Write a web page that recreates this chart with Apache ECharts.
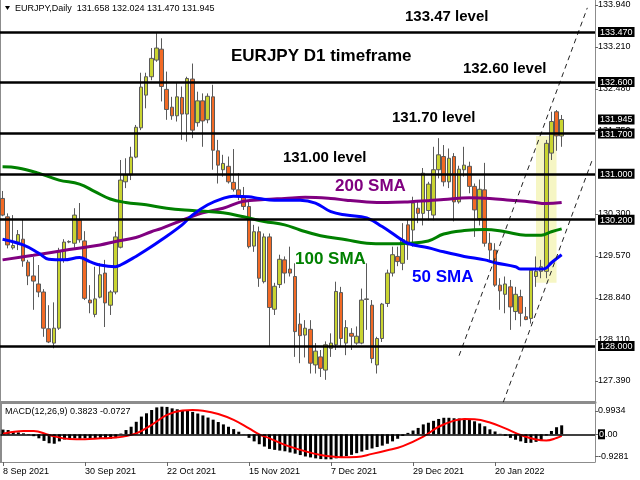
<!DOCTYPE html>
<html><head><meta charset="utf-8">
<script src="https://cdn.jsdelivr.net/npm/echarts@6/dist/echarts.min.js"></script>
<style>html,body{margin:0;padding:0;background:#fff}#c{width:640px;height:480px}</style>
</head><body><div id="c"></div>
<script>
// ---- categories (trading days) ----
const sepDays=[8,9,10,13,14,15,16,17,20,21,22,23,24,27,28,29,30];
const octDays=[1,4,5,6,7,8,11,12,13,14,15,18,19,20,21,22,25,26,27,28,29];
const novDays=[1,2,3,4,5,8,9,10,11,12,15,16,17,18,19,22,23,24,25,26,29,30];
const decDays=[1,2,3,6,7,8,9,10,13,14,15,16,17,20,21,22,23,24,27,28,29,30,31];
const janDays=[3,4,5,6,7,10,11,12,13,14,17,18,19,20,21,24,25,26,27,28,31];
const febDays=[1,2,3,4,7,8,9,10,11,14,15,16];
const categories=[].concat(
  sepDays.map(d=>d+' Sep 2021'),octDays.map(d=>d+' Oct 2021'),novDays.map(d=>d+' Nov 2021'),
  decDays.map(d=>d+' Dec 2021'),janDays.map(d=>d+' Jan 2022'),febDays.map(d=>d+' Feb 2022'));

// ---- OHLC ----
const opens=[130.57,130.25,129.71,129.81,129.86,129.46,129.22,129.08,128.94,128.30,
128.05,128.31,129.50,129.81,129.79,130.19,129.83,128.80,128.55,128.85,
129.27,128.71,128.94,129.72,130.86,130.98,131.29,131.80,132.37,132.69,
132.98,133.17,132.47,132.16,132.01,132.33,132.04,132.65,131.89,132.27,
131.94,132.34,131.40,131.07,131.13,130.85,130.72,130.60,130.43,129.74,
129.99,129.12,129.90,128.64,129.07,129.50,129.34,129.21,128.38,128.19,
128.29,127.67,127.81,127.58,127.96,128.02,128.93,128.05,128.22,128.05,
128.05,128.81,128.71,127.67,128.13,128.74,129.27,129.56,129.44,130.11,
130.02,130.40,130.31,130.36,130.28,131.07,131.30,130.86,131.30,130.51,
131.07,131.13,130.78,130.22,130.72,129.79,129.67,129.06,128.90,129.03,
128.60,128.86,128.51,128.48,129.21,129.30,129.30,131.36,132.08,131.658];
const highs=[130.70,130.31,130.28,130.02,130.20,129.50,129.55,129.41,128.99,128.71,
128.76,129.71,129.86,129.84,130.40,130.49,130.00,129.06,129.38,129.44,
129.50,128.97,129.99,131.24,131.27,131.47,131.85,132.76,132.76,133.19,
133.45,133.36,132.78,132.34,132.58,132.52,132.69,132.92,132.43,132.40,
132.40,132.55,131.59,131.33,131.30,131.43,131.01,130.77,130.54,130.11,
130.08,129.96,129.96,129.10,129.59,129.56,129.73,129.44,128.57,128.45,
128.45,128.05,127.93,128.08,128.22,129.12,129.03,128.45,128.31,128.34,
129.00,129.44,128.80,128.16,128.75,129.33,129.73,129.73,130.14,130.20,
130.60,130.54,131.10,130.86,131.47,131.62,131.50,131.44,131.36,131.14,
131.47,131.21,130.83,130.90,131.19,129.97,129.79,129.18,129.21,129.15,
129.03,128.98,128.68,129.35,129.56,129.50,131.59,132.08,132.11,132.024];
const lows=[130.26,129.70,129.68,129.67,129.38,129.06,128.63,128.85,128.16,128.05,
127.96,128.28,129.45,129.79,129.71,129.80,128.80,128.57,128.50,128.83,
128.33,128.54,128.90,129.70,130.75,130.89,131.27,131.76,132.14,132.63,
132.95,132.26,131.94,131.94,131.91,131.59,131.56,131.62,131.82,131.47,
131.88,131.07,130.83,130.95,130.83,130.69,130.54,130.37,129.70,129.64,
129.03,129.09,127.99,128.54,129.01,129.09,129.21,127.81,127.70,127.80,
127.52,127.52,127.46,127.41,127.81,127.93,127.99,127.84,127.93,128.02,
128.03,128.28,127.70,127.52,128.07,128.68,129.21,129.39,129.32,129.50,
129.73,130.14,130.10,130.19,130.19,130.92,130.78,130.75,130.17,130.48,
130.95,130.66,129.90,130.10,129.73,129.50,129.03,128.63,128.57,128.28,
128.45,128.34,128.45,128.39,129.03,129.18,129.18,131.24,131.40,131.470];
const closes=[130.28,129.76,129.75,129.94,129.48,129.22,129.13,128.94,128.31,128.07,
128.31,129.64,129.81,129.82,130.28,129.85,128.83,128.75,128.82,129.24,
128.75,128.94,129.90,130.89,130.98,131.29,131.81,132.51,132.69,133.01,
133.19,132.52,132.12,132.01,132.34,132.04,132.66,131.76,132.27,131.92,
132.35,131.41,131.15,131.18,130.86,130.73,130.60,130.43,129.73,129.99,
129.18,129.90,128.67,129.04,129.51,129.27,129.27,128.25,128.18,128.31,
127.70,127.91,127.61,128.02,128.05,128.95,128.13,128.32,128.17,128.17,
128.80,128.82,127.78,128.13,128.73,129.27,129.59,129.47,129.85,129.76,
130.49,130.31,131.01,130.82,131.07,131.33,130.86,131.27,130.51,131.08,
131.15,130.78,130.37,130.73,129.79,129.67,129.06,128.96,129.08,128.68,
128.90,128.57,128.46,129.32,129.30,129.38,131.53,131.91,131.66,131.945];

// ---- moving averages: [barIndex, price] ----
const sma50=[[0,129.86],[4,129.76],[7,129.62],[9,129.51],[12,129.50],[15,129.54],[17,129.47],[19,129.41],[22,129.38],[23,129.41],[26,129.56],[28,129.67],[31,129.85],[35,130.11],[37,130.28],[40,130.46],[43,130.57],[45,130.61],[48,130.60],[50,130.57],[53,130.54],[55,130.54],[58,130.54],[61,130.49],[64,130.34],[67,130.28],[71,130.23],[74,130.08],[77,129.90],[79,129.79],[83,129.71],[86,129.64],[90,129.56],[94,129.50],[96,129.45],[100,129.38],[101,129.34],[105,129.34],[106,129.36],[107,129.45],[109,129.59]];
const sma100=[[0,131.12],[3,131.10],[7,131.01],[11,130.89],[15,130.82],[18,130.69],[21,130.56],[24,130.50],[28,130.46],[32,130.40],[37,130.36],[43,130.32],[47,130.25],[51,130.17],[55,130.11],[58,130.02],[62,129.92],[67,129.85],[71,129.79],[75,129.78],[79,129.79],[83,129.83],[86,129.95],[90,130.01],[94,130.03],[98,129.99],[102,129.93],[105,129.93],[107,129.99],[109,130.04]];
const sma200=[[0,129.50],[6,129.58],[13,129.68],[19,129.76],[22,129.82],[26,129.89],[29,129.99],[31,130.05],[35,130.19],[39,130.32],[43,130.40],[47,130.52],[51,130.55],[55,130.57],[59,130.59],[64,130.57],[67,130.54],[71,130.51],[75,130.50],[79,130.51],[83,130.53],[86,130.55],[91,130.58],[95,130.57],[99,130.54],[103,130.51],[106,130.48],[109,130.50]];

// ---- MACD ----
const macdHist=[0.20,0.18,0.13,0.08,0.04,-0.02,-0.08,-0.17,-0.28,-0.38,
-0.40,-0.30,-0.22,-0.18,-0.17,-0.19,-0.17,-0.16,-0.17,-0.19,
-0.20,-0.19,-0.16,0.03,0.18,0.32,0.53,0.75,0.89,1.03,
1.14,1.17,1.16,1.10,1.06,1.03,0.99,0.95,0.88,0.80,
0.71,0.62,0.52,0.42,0.32,0.22,0.11,-0.01,-0.15,-0.30,
-0.42,-0.52,-0.62,-0.66,-0.69,-0.72,-0.77,-0.82,-0.88,-0.94,
-0.98,-1.02,-1.05,-1.06,-1.06,-1.02,-0.97,-0.92,-0.87,-0.80,
-0.73,-0.66,-0.60,-0.54,-0.48,-0.40,-0.30,-0.19,-0.07,0.06,
0.16,0.27,0.42,0.49,0.57,0.65,0.70,0.70,0.68,0.67,
0.65,0.62,0.55,0.46,0.34,0.21,0.12,0.02,-0.06,-0.15,
-0.23,-0.30,-0.37,-0.36,-0.32,-0.25,-0.05,0.14,0.30,0.38];
const macdSignal=[[0,0.02],[4,0.14],[6,0.14],[9,-0.03],[13,-0.20],[16,-0.21],[19,-0.17],[22,-0.14],[26,0.04],[29,0.40],[32,0.82],[35,1.01],[37,1.03],[39,1.00],[42,0.86],[45,0.61],[48,0.25],[50,0.0],[52,-0.17],[55,-0.45],[58,-0.66],[62,-0.88],[66,-0.97],[69,-0.96],[72,-0.83],[75,-0.68],[78,-0.50],[82,-0.10],[85,0.32],[88,0.58],[90,0.65],[92,0.64],[95,0.50],[98,0.25],[101,-0.03],[104,-0.22],[106,-0.26],[108,-0.16],[109,-0.07]];
const macdLast=0.3823, signalLast=-0.0727;

// ---- levels, ticks, annotations ----
const levels=[133.47,132.60,131.70,131.00,130.20,128.00];
const lastClose=131.945;
const priceTicks=[133.94,133.21,132.48,131.75,130.30,129.57,128.84,128.11,127.39];
const macdTicks=[0.9934,0,-0.9281];
const trendA=[[89,127.83],[114,133.89]];
const trendB=[[97,126.87],[115,131.25]];
const highlight=[[104,131.66],[108,129.10]];

const candles=opens.map((o,i)=>[o,closes[i],lows[i],highs[i]]);
const F='"Liberation Sans", Arial, sans-serif';
const showLbl=(idx,val)=>idx%16===0 && idx<=96;

const chart=echarts.init(document.getElementById('c'),null,{renderer:'canvas'});
const labelVals=priceTicks.concat(levels,[lastClose]);
const boxed=v=>levels.indexOf(v)>=0||v===lastClose;

chart.setOption({
  animation:false,
  backgroundColor:'#fff',
  textStyle:{fontFamily:F},
  grid:[{left:0,right:45,top:0,height:402},{left:0,right:45,top:404,height:58}],
  xAxis:[
    {type:'category',gridIndex:0,data:categories,boundaryGap:true,
     axisLine:{show:true,onZero:false,lineStyle:{color:'#8c8c8c',width:3}},axisTick:{show:false},axisLabel:{show:false},splitLine:{show:false}},
    {type:'category',gridIndex:1,data:categories,boundaryGap:true,
     axisLine:{show:true,onZero:false,lineStyle:{color:'#8c8c8c',width:1}},
     axisTick:{show:true,alignWithLabel:true,interval:showLbl,length:4,lineStyle:{color:'#666'}},
     axisLabel:{interval:showLbl,align:'left',fontSize:9,color:'#000',margin:5,fontFamily:F},splitLine:{show:false}}
  ],
  yAxis:[
    {type:'value',gridIndex:0,position:'right',min:127.024,max:134.027,
     axisLine:{show:true,lineStyle:{color:'#8c8c8c'}},
     axisTick:{show:true,length:3,customValues:priceTicks,lineStyle:{color:'#666'}},
     axisLabel:{customValues:labelVals,margin:3,fontSize:9,color:'#000',fontFamily:F,
       formatter:v=>boxed(v)?'{b|'+v.toFixed(3)+'}':v.toFixed(3),
       rich:{b:{backgroundColor:'#000',color:'#fff',fontSize:9,fontFamily:F,padding:[1,2,0,2],lineHeight:9}}},
     splitLine:{show:false}},
    {type:'value',gridIndex:1,position:'right',min:-1.174,max:1.284,
     axisLine:{show:true,lineStyle:{color:'#8c8c8c'}},
     axisTick:{show:true,length:3,customValues:macdTicks,lineStyle:{color:'#666'}},
     axisLabel:{customValues:macdTicks,margin:3,fontSize:9,color:'#000',fontFamily:F,
       formatter:v=>v===0?'{b|0}.00':v.toFixed(4),
       rich:{b:{backgroundColor:'#000',color:'#fff',fontSize:9,fontFamily:F,padding:[1,1,0,1],lineHeight:9}}},
     splitLine:{show:false}},
    {type:'value',gridIndex:0,position:'left',min:127.024,max:134.027,
     axisLine:{show:true,lineStyle:{color:'#8c8c8c',width:2}},axisTick:{show:false},axisLabel:{show:false},splitLine:{show:false}},
    {type:'value',gridIndex:1,position:'left',min:-1.174,max:1.284,
     axisLine:{show:true,lineStyle:{color:'#8c8c8c',width:2}},axisTick:{show:false},axisLabel:{show:false},splitLine:{show:false}}
  ],
  series:[
    {type:'line',xAxisIndex:0,yAxisIndex:0,data:[],z:1,silent:true,
     markArea:{silent:true,itemStyle:{color:'#f6f6c4'},
       data:[[{coord:highlight[0]},{coord:highlight[1]}]]}},
    {type:'candlestick',xAxisIndex:0,yAxisIndex:0,data:candles,z:2,barWidth:4,
     itemStyle:{color:'#c9d431',color0:'#f26a25',borderColor:'#5a5a5a',borderColor0:'#5a5a5a',borderWidth:1}},
    {type:'line',xAxisIndex:0,yAxisIndex:0,data:sma200,smooth:0.4,showSymbol:false,z:3,
     lineStyle:{color:'#800080',width:3}},
    {type:'line',xAxisIndex:0,yAxisIndex:0,data:sma100,smooth:0.4,showSymbol:false,z:3,
     lineStyle:{color:'#008000',width:3}},
    {type:'line',xAxisIndex:0,yAxisIndex:0,data:sma50,smooth:0.4,showSymbol:false,z:3,
     lineStyle:{color:'#0000ff',width:3}},
    {type:'line',xAxisIndex:0,yAxisIndex:0,data:trendA,showSymbol:false,z:4,clip:true,
     lineStyle:{color:'#222',width:1,type:[5,4]}},
    {type:'line',xAxisIndex:0,yAxisIndex:0,data:trendB,showSymbol:false,z:4,clip:true,
     lineStyle:{color:'#222',width:1,type:[5,4]}},
    {type:'line',xAxisIndex:0,yAxisIndex:0,data:[],z:5,silent:true,
     markLine:{silent:true,symbol:['none','none'],label:{show:false},
       lineStyle:{color:'#000',width:2.5,type:'solid'},
       data:levels.map(v=>({yAxis:v}))}},
    {type:'bar',xAxisIndex:1,yAxisIndex:1,data:macdHist,barWidth:3,z:2,
     itemStyle:{color:'#000'},
     markLine:{silent:true,symbol:['none','none'],label:{show:false},
       lineStyle:{color:'#000',width:1.5,type:'solid'},data:[{yAxis:0}]}},
    {type:'line',xAxisIndex:1,yAxisIndex:1,data:macdSignal,smooth:0.4,showSymbol:false,z:3,
     lineStyle:{color:'#ff0000',width:2}}
  ],
  graphic:[
    {type:'polygon',shape:{points:[[5,6],[10,6],[7.5,10]]},style:{fill:'#000'}},
    {type:'text',x:15,y:8.5,style:{text:'EURJPY,Daily  '+opens[109].toFixed(3)+' '+highs[109].toFixed(3)+' '+lows[109].toFixed(3)+' '+closes[109].toFixed(3),font:'9px '+F,fill:'#000',verticalAlign:'middle'}},
    {type:'text',x:5,y:411.5,style:{text:'MACD(12,26,9) '+macdLast.toFixed(4)+' '+signalLast.toFixed(4),font:'9px '+F,fill:'#000',verticalAlign:'middle'}},
    {type:'text',x:231,y:56,style:{text:'EURJPY D1 timeframe',font:'bold 17px '+F,fill:'#000',verticalAlign:'middle'}},
    {type:'text',x:405,y:17,style:{text:'133.47 level',font:'bold 15px '+F,fill:'#000',verticalAlign:'middle'}},
    {type:'text',x:463,y:69,style:{text:'132.60 level',font:'bold 15px '+F,fill:'#000',verticalAlign:'middle'}},
    {type:'text',x:392,y:118,style:{text:'131.70 level',font:'bold 15px '+F,fill:'#000',verticalAlign:'middle'}},
    {type:'text',x:283,y:158,style:{text:'131.00 level',font:'bold 15px '+F,fill:'#000',verticalAlign:'middle'}},
    {type:'text',x:335,y:186,style:{text:'200 SMA',font:'bold 17px '+F,fill:'#800080',verticalAlign:'middle'}},
    {type:'text',x:295,y:259,style:{text:'100 SMA',font:'bold 17px '+F,fill:'#008000',verticalAlign:'middle'}},
    {type:'text',x:412,y:277.5,style:{text:'50 SMA',font:'bold 17px '+F,fill:'#0000ff',verticalAlign:'middle'}}
  ]
});
</script></body></html>
